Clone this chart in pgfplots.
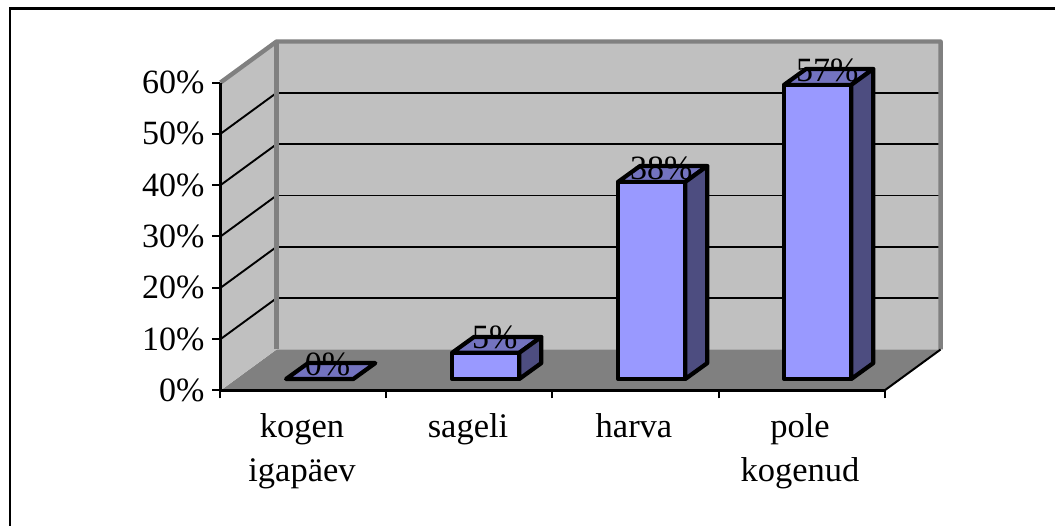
\documentclass[border=0pt]{standalone}
\usepackage{fontspec}
\setmainfont{Liberation Serif}
\usepackage{pgfplots}
\pgfplotsset{compat=1.18}
\definecolor{wall}{HTML}{C0C0C0}
\definecolor{edge}{HTML}{808080}
\definecolor{barfront}{HTML}{9999FF}
\definecolor{bartop}{HTML}{7373BF}
\definecolor{barside}{HTML}{4D4D80}
\begin{document}
\begin{tikzpicture}[x=1pt,y=1pt]
\path[use as bounding box] (-220.5,-135.5) rectangle (834.5,390.5);
\draw[black,line width=2.8pt] (834.5,382) -- (-210.5,382) -- (-210.5,-135.5);
\begin{axis}[
  at={(0pt,0pt)},anchor=origin,
  scale only axis,width=664pt,height=308pt,
  xmin=0,xmax=4,ymin=0,ymax=60,
  clip=false,axis on top=true,
  axis x line*=bottom,axis y line*=left,
  axis line style={line width=2.1pt,-},
  tick align=outside,
  every tick/.style={black,line width=2pt},
  minor tick style={black,line width=2pt},
  ytick={0,10,20,30,40,50,60},
  yticklabels={0\%,10\%,20\%,30\%,40\%,50\%,60\%},
  major tick length=8pt,minor tick length=8pt,
  xtick={0.5,1.5,2.5,3.5},
  minor xtick={0,1,2,3,4},
  x tick style={draw=none},
  minor x tick style={draw=black,line width=2pt},
  xticklabels={{kogen\\igapäev},{sageli},{harva},{pole\\kogenud}},
  xticklabel style={align=center,font=\fontsize{34.5}{43.5}\selectfont,yshift=-12pt,xshift=-1.5pt},
  yticklabel style={font=\fontsize{34}{38}\selectfont,xshift=-4.5pt},
  /pgf/number format/assume math mode=true,
]
% floor and walls
\addplot[fill=edge,draw=none] coordinates {(0,0)(4,0)(4.338,7.99)(0.338,7.99)} --cycle;
\addplot[fill=wall,draw=none] coordinates {(0,0)(0,60)(0.338,67.99)(0.338,7.99)} --cycle;
\addplot[fill=wall,draw=none] coordinates {(0.338,7.99)(0.338,67.99)(4.338,67.99)(4.338,7.99)} --cycle;
% grid lines, back wall
\addplot[black,line width=1.9pt] coordinates {(0.338,17.99)(4.338,17.99)};
\addplot[black,line width=1.9pt] coordinates {(0.338,27.99)(4.338,27.99)};
\addplot[black,line width=1.9pt] coordinates {(0.338,37.99)(4.338,37.99)};
\addplot[black,line width=1.9pt] coordinates {(0.338,47.99)(4.338,47.99)};
\addplot[black,line width=1.9pt] coordinates {(0.338,57.99)(4.338,57.99)};
% grid lines, side wall
\addplot[black,line width=1.9pt] coordinates {(0,10)(0.338,17.99)};
\addplot[black,line width=1.9pt] coordinates {(0,20)(0.338,27.99)};
\addplot[black,line width=1.9pt] coordinates {(0,30)(0.338,37.99)};
\addplot[black,line width=1.9pt] coordinates {(0,40)(0.338,47.99)};
\addplot[black,line width=1.9pt] coordinates {(0,50)(0.338,57.99)};
% wall borders
\addplot[edge,line width=4.4pt,line join=round] coordinates {(0,60)(0.338,67.99)(4.338,67.99)(4.338,7.99)};
\addplot[edge,line width=4.4pt] coordinates {(0.338,7.99)(0.338,67.99)};
\addplot[black,line width=2pt] coordinates {(4,0)(4.338,7.99)};
% bars: kogen igapaev 0
\addplot[fill=bartop,draw=black,line width=4.2pt,line join=round] coordinates {(0.395,2.24)(0.80,2.24)(0.9325,5.34)(0.5275,5.34)} --cycle;
% sageli 5
\addplot[fill=bartop,draw=black,line width=4.2pt,line join=round] coordinates {(1.395,7.34)(1.80,7.34)(1.9325,10.44)(1.5275,10.44)} --cycle;
\addplot[fill=barside,draw=black,line width=4.2pt,line join=round] coordinates {(1.80,2.24)(1.9325,5.34)(1.9325,10.44)(1.80,7.34)} --cycle;
\addplot[fill=barfront,draw=black,line width=4.2pt,line join=round] coordinates {(1.395,2.24)(1.80,2.24)(1.80,7.34)(1.395,7.34)} --cycle;
% harva 38
\addplot[fill=bartop,draw=black,line width=4.2pt,line join=round] coordinates {(2.395,40.64)(2.80,40.64)(2.9325,43.74)(2.5275,43.74)} --cycle;
\addplot[fill=barside,draw=black,line width=4.2pt,line join=round] coordinates {(2.80,2.24)(2.9325,5.34)(2.9325,43.74)(2.80,40.64)} --cycle;
\addplot[fill=barfront,draw=black,line width=4.2pt,line join=round] coordinates {(2.395,2.24)(2.80,2.24)(2.80,40.64)(2.395,40.64)} --cycle;
% pole kogenud 57
\addplot[fill=bartop,draw=black,line width=4.2pt,line join=round] coordinates {(3.395,59.54)(3.80,59.54)(3.9325,62.64)(3.5275,62.64)} --cycle;
\addplot[fill=barside,draw=black,line width=4.2pt,line join=round] coordinates {(3.80,2.24)(3.9325,5.34)(3.9325,62.64)(3.80,59.54)} --cycle;
\addplot[fill=barfront,draw=black,line width=4.2pt,line join=round] coordinates {(3.395,2.24)(3.80,2.24)(3.80,59.54)(3.395,59.54)} --cycle;
% data labels
\node[font=\fontsize{34}{38}\selectfont,inner sep=0pt] at (axis cs:0.645,5.0) {0\%};
\node[font=\fontsize{34}{38}\selectfont,inner sep=0pt] at (axis cs:1.652,10.3) {5\%};
\node[font=\fontsize{34}{38}\selectfont,inner sep=0pt] at (axis cs:2.655,43.3) {38\%};
\node[font=\fontsize{34}{38}\selectfont,inner sep=0pt] at (axis cs:3.655,62.3) {57\%};
\end{axis}
\end{tikzpicture}
\end{document}
